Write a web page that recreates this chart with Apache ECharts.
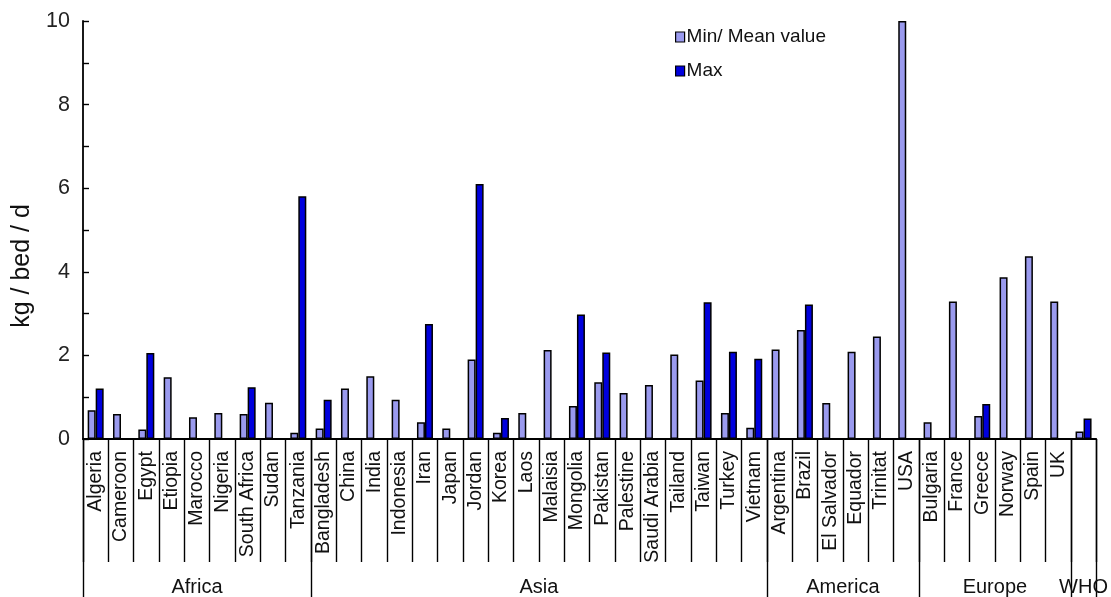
<!DOCTYPE html>
<html>
<head>
<meta charset="utf-8">
<script src="https://cdn.jsdelivr.net/npm/echarts@6/dist/echarts.min.js"></script>
<style>
  html, body { margin: 0; padding: 0; background: #fff; }
  #chart { width: 1111px; height: 597px; }
</style>
</head>
<body>
<div id="chart"></div>
<script>
// Countries, grouped by region (empty label = WHO reference value)
const countries = [
  'Algeria', 'Cameroon', 'Egypt', 'Etiopia', 'Marocco', 'Nigeria', 'South Africa', 'Sudan', 'Tanzania',
  'Bangladesh', 'China', 'India', 'Indonesia', 'Iran', 'Japan', 'Jordan', 'Korea', 'Laos', 'Malaisia',
  'Mongolia', 'Pakistan', 'Palestine', 'Saudi Arabia', 'Tailand', 'Taiwan', 'Turkey', 'Vietnam',
  'Argentina', 'Brazil', 'El Salvador', 'Equador', 'Trinitat', 'USA',
  'Bulgaria', 'France', 'Greece', 'Norway', 'Spain', 'UK',
  ''
];

// Min / mean waste generation, kg per bed per day
const minMeanValues = [
  0.69, 0.60, 0.23, 1.48, 0.52, 0.62, 0.60, 0.87, 0.15,
  0.25, 1.21, 1.50, 0.94, 0.40, 0.25, 1.90, 0.15, 0.62, 2.13,
  0.79, 1.36, 1.10, 1.29, 2.02, 1.40, 0.62, 0.27,
  2.14, 2.61, 0.86, 2.09, 2.45, 10,
  0.40, 3.29, 0.55, 3.87, 4.37, 3.29,
  0.18
];

// Maximum values (null where only one value is reported)
const maxValues = [
  1.21, null, 2.06, null, null, null, 1.24, null, 5.81,
  0.94, null, null, null, 2.75, null, 6.10, 0.50, null, null,
  2.98, 2.07, null, null, null, 3.27, 2.09, 1.92,
  null, 3.22, null, null, null, null,
  null, null, 0.84, null, null, null,
  0.49
];

// Regions and how many countries each spans
const regionNames = ['Africa', 'Asia', 'America', 'Europe', 'WHO'];
const regionSizes = [9, 18, 6, 6, 1];

const yTicks = [0, 2, 4, 6, 8, 10];

// Region boundaries and centres on a 0..N scale
const boundaries = [0];
regionSizes.forEach(n => boundaries.push(boundaries[boundaries.length - 1] + n));
const centres = regionNames.map((_, i) => (boundaries[i] + boundaries[i + 1]) / 2);
const centreName = {};
centres.forEach((c, i) => { centreName[c.toFixed(2)] = regionNames[i]; });

const FONT = '"Liberation Sans", Arial, Helvetica, sans-serif';
const LIGHT = '#9a9aee';
const DARK = '#0000dd';

const chart = echarts.init(document.getElementById('chart'), null, { renderer: 'canvas' });

chart.setOption({
  animation: false,
  backgroundColor: '#ffffff',
  textStyle: { fontFamily: FONT },
  grid: { left: 83, right: 14, top: 21, bottom: 156, containLabel: false },
  legend: {
    orient: 'vertical',
    left: 670,
    top: 22,
    itemWidth: 9,
    itemHeight: 10,
    itemGap: 14,
    icon: 'rect',
    itemStyle: { borderColor: '#000', borderWidth: 1.2 },
    textStyle: { fontFamily: FONT, fontSize: 19, color: '#111', lineHeight: 20, padding: [0, 0, 0, -3] },
    data: ['Min/ Mean value', 'Max']
  },
  graphic: [{
    type: 'text',
    x: 22,
    y: 266,
    rotation: Math.PI / 2,
    style: {
      text: 'kg / bed / d',
      fontFamily: FONT,
      fontSize: 25,
      fill: '#111',
      align: 'center',
      verticalAlign: 'middle'
    }
  }],
  xAxis: [
    {
      type: 'category',
      data: countries,
      position: 'bottom',
      axisLine: { show: true, lineStyle: { color: '#000', width: 1.8 } },
      axisTick: { show: true, inside: false, length: 123, alignWithLabel: false, lineStyle: { color: '#000', width: 1.4 } },
      axisLabel: {
        rotate: 90,
        margin: 12,
        interval: 0,
        fontFamily: FONT,
        fontSize: 19.5,
        color: '#111'
      },
      splitLine: { show: false }
    },
    {
      type: 'value',
      position: 'bottom',
      min: 0,
      max: countries.length,
      axisLine: { show: false },
      axisTick: {
        show: true,
        inside: false,
        length: 170,
        customValues: boundaries,
        lineStyle: { color: '#000', width: 1.4 }
      },
      axisLabel: {
        show: true,
        margin: 138,
        customValues: centres,
        fontFamily: FONT,
        fontSize: 20,
        color: '#111',
        formatter: v => centreName[Number(v).toFixed(2)] || ''
      },
      splitLine: { show: false }
    }
  ],
  yAxis: {
    type: 'value',
    min: 0,
    max: 10,
    interval: 2,
    axisLine: { show: true, lineStyle: { color: '#000', width: 1.8 } },
    axisTick: { show: true, inside: true, length: 6, lineStyle: { color: '#000', width: 1.4 } },
    minorTick: { show: true, splitNumber: 2, length: 6, lineStyle: { color: '#000', width: 1.4 } },
    axisLabel: {
      margin: 13,
      fontFamily: FONT,
      fontSize: 21.5,
      color: '#222',
      customValues: yTicks
    },
    splitLine: { show: false }
  },
  series: [
    {
      name: 'Min/ Mean value',
      type: 'bar',
      xAxisIndex: 0,
      data: minMeanValues,
      barWidth: 8,
      barGap: '0%',
      itemStyle: { color: LIGHT, borderColor: '#000', borderWidth: 1.5 }
    },
    {
      name: 'Max',
      type: 'bar',
      xAxisIndex: 0,
      data: maxValues,
      barWidth: 8,
      barGap: '0%',
      itemStyle: { color: DARK, borderColor: '#000', borderWidth: 1.5 }
    }
  ]
});
</script>
</body>
</html>
